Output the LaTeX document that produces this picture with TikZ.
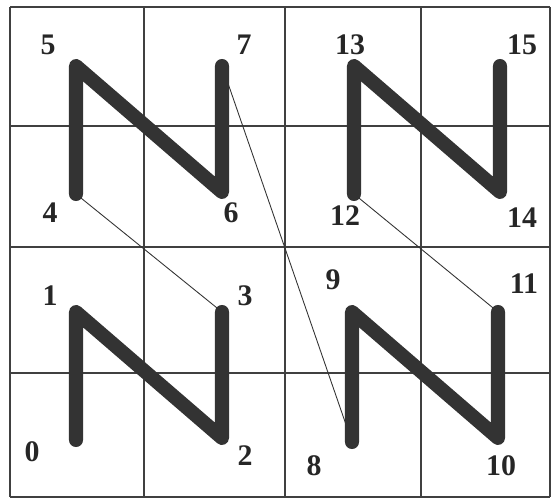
\documentclass[tikz,border=0pt]{standalone}
\usepackage{fontspec}
\setmainfont{Liberation Serif}
\usepackage{tikz}
\usetikzlibrary{positioning}

\begin{document}
\begin{tikzpicture}[
  x=0.02cm, y=-0.02cm,
  gridline/.style={draw=black!75, line width=0.8pt},
  zstroke/.style={draw=black!80, line width=8pt, line cap=round, line join=round},
  jumpline/.style={draw=black!80, line width=0.5pt},
  numlabel/.style={font=\fontsize{17}{19}\selectfont\bfseries, text=black!85, inner sep=0pt}
]
\useasboundingbox (0,0) rectangle (554,499);

% grid
\foreach \gx in {10,144,285,421,550}
  \draw[gridline] (\gx,7) -- (\gx,497);
\foreach \gy in {7,126,247,373,497}
  \draw[gridline] (10,\gy) -- (550,\gy);

% curve points
\coordinate (p0) at (76,440);
\coordinate (p1) at (76,312);
\coordinate (p2) at (222,438);
\coordinate (p3) at (222,312);
\coordinate (p4) at (76,194);
\coordinate (p5) at (76,66);
\coordinate (p6) at (222,192);
\coordinate (p7) at (222,66);
\coordinate (p8) at (352,442);
\coordinate (p9) at (352,312);
\coordinate (p10) at (498,438);
\coordinate (p11) at (498,312);
\coordinate (p12) at (354,194);
\coordinate (p13) at (354,66);
\coordinate (p14) at (500,192);
\coordinate (p15) at (500,66);

% labels
\node[numlabel] (l0) at (32,452) {0};
\node[numlabel] (l1) at (50,296) {1};
\node[numlabel] (l2) at (245,456) {2};
\node[numlabel] (l3) at (245,296) {3};
\node[numlabel] (l4) at (50,213) {4};
\node[numlabel] (l5) at (48,45) {5};
\node[numlabel] (l6) at (231,213) {6};
\node[numlabel] (l7) at (244,45) {7};
\node[numlabel] (l8) at (314,466) {8};
\node[numlabel] (l9) at (333,280) {9};
\node[numlabel] (l10) at (501,466) {10};
\node[numlabel] (l11) at (524,284) {11};
\node[numlabel] (l12) at (345,216) {12};
\node[numlabel] (l13) at (350,45) {13};
\node[numlabel] (l14) at (522,218) {14};
\node[numlabel] (l15) at (522,45) {15};

% thick strokes
\draw[zstroke] (p0) -- (p1) -- (p2) -- (p3);
\draw[zstroke] (p4) -- (p5) -- (p6) -- (p7);
\draw[zstroke] (p8) -- (p9) -- (p10) -- (p11);
\draw[zstroke] (p12) -- (p13) -- (p14) -- (p15);

% jumps
\draw[jumpline] (p3) -- (p4);
\draw[jumpline] (p7) -- (p8);
\draw[jumpline] (p11) -- (p12);
\end{tikzpicture}
\end{document}
